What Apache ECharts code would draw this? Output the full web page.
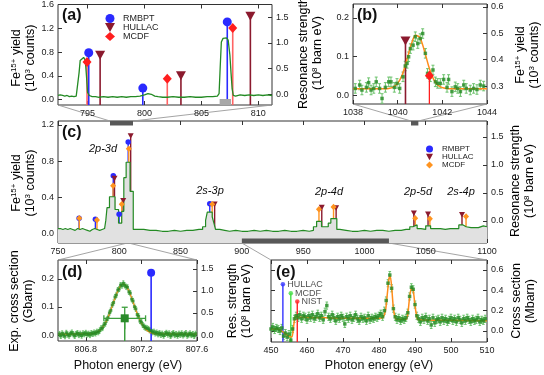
<!DOCTYPE html>
<html><head><meta charset="utf-8">
<script src="https://cdn.jsdelivr.net/npm/echarts@6/dist/echarts.min.js"></script>
<style>html,body{margin:0;padding:0;background:#fff}#c{width:544px;height:375px}</style>
</head><body><div id="c"></div>
<script>
// ================= DATA =================
// axis ranges (eV / units)
const aXRange = [792.4, 811.2];
const bXRange = [1038, 1044];
const cXRange = [750, 1100];
const dXRange = [806.6, 807.6];
const eXRange = [450, 510];
const eXRange2 = [900, 1020]; // second-order region marked in (c)

// tick labels
const aXTicks = [795, 800, 805, 810];
const aYLTicks = [0, 0.4, 0.8, 1.2, 1.6];
const aYRTicks = [0, 0.5, 1.0, 1.5];
const bXTicks = [1038, 1040, 1042, 1044];
const bYLTicks = [0, 0.1, 0.2];
const bYRTicks = [0.3, 0.4, 0.5, 0.6];
const cXTicks = [750, 800, 850, 900, 950, 1000, 1050, 1100];
const cYLTicks = [0, 0.4, 0.8, 1.2];
const cYRTicks = [0, 0.5, 1.0, 1.5];
const dXTicks = [806.8, 807.2, 807.6];
const dYLTicks = [0, 0.1, 0.2];
const dYRTicks = [0, 0.5, 1.0, 1.5];
const eXTicks = [450, 460, 470, 480, 490, 500, 510];
const eYTicks = [0, 0.2, 0.4, 0.6];

// (a) Fe15+ yield, fine scan
const aYield = [[792.4,0.07],[792.6,0.08],[792.8,0.07],[793.0,0.06],[793.2,0.07],[793.4,0.05],[793.6,0.06],[793.8,0.05],[794.0,0.06],[794.15,0.09],[794.25,0.45],[794.35,0.66],[794.5,0.69],[794.65,0.71],[794.8,0.66],[794.9,0.40],[795.0,0.12],[795.15,0.07],[795.4,0.05],[795.7,0.05],[796.0,0.04],[796.4,0.05],[796.8,0.04],[797.2,0.05],[797.6,0.04],[798.0,0.05],[798.4,0.04],[798.8,0.05],[799.2,0.05],[799.6,0.06],[800.0,0.08],[800.3,0.10],[800.6,0.09],[800.9,0.06],[801.2,0.05],[801.6,0.04],[802.0,0.04],[802.5,0.05],[803.0,0.04],[803.5,0.04],[804.0,0.05],[804.5,0.04],[805.0,0.04],[805.5,0.05],[806.0,0.05],[806.4,0.06],[806.55,0.10],[806.65,0.55],[806.75,0.97],[806.9,1.03],[807.05,1.05],[807.2,1.04],[807.35,1.00],[807.5,0.75],[807.6,0.45],[807.7,0.18],[807.8,0.07],[808.0,0.06],[808.4,0.08],[808.8,0.07],[809.2,0.08],[809.6,0.07],[810.0,0.08],[810.4,0.07],[810.8,0.08],[811.2,0.07]];

// theory resonance strengths (10^8 barn eV)
const thRMBPT = [[767.2,0.05],[780.5,0.03],[795.1,0.81],[799.85,0.12],[807.27,1.41],[873.8,0.31]];
const thHULLAC = [[796.1,0.76],[803.2,0.36],[809.3,1.52],[877.8,0.30],[965.2,0.24],[976.9,0.23],[1040.35,0.14],[1051.9,0.12],[1079.6,0.11]];
const thMCDF = [[767.4,0.05],[781.8,0.02],[794.95,0.63],[802.0,0.30],[807.75,1.29],[875.8,0.30],[962.9,0.21],[974.8,0.25],[1041.42,0.05],[1053.4,0.04],[1082.9,0.08]];

// (b) 2p-5d resonance
const bData = [[1038.10,0.291],[1038.30,0.304],[1038.40,0.285],[1038.60,0.295],[1038.70,0.313],[1038.81,0.285],[1038.93,0.291],[1039.04,0.316],[1039.19,0.291],[1039.30,0.253],[1039.45,0.295],[1039.60,0.316],[1039.70,0.316],[1039.85,0.295],[1039.97,0.310],[1040.09,0.291],[1040.24,0.335],[1040.34,0.376],[1040.42,0.386],[1040.49,0.411],[1040.57,0.442],[1040.69,0.455],[1040.79,0.487],[1040.90,0.461],[1041.01,0.480],[1041.12,0.499],[1041.24,0.424],[1041.34,0.348],[1041.46,0.335],[1041.58,0.361],[1041.69,0.316],[1041.79,0.310],[1041.91,0.310],[1042.06,0.325],[1042.21,0.295],[1042.28,0.325],[1042.43,0.279],[1042.58,0.297],[1042.69,0.291],[1042.81,0.279],[1042.96,0.304],[1043.07,0.291],[1043.25,0.285],[1043.40,0.291],[1043.55,0.287],[1043.70,0.304],[1043.85,0.300]];
const bErr = 0.018;
const bFit = [[1038,0.29],[1039.4,0.29],[1039.6,0.291],[1039.8,0.296],[1040.0,0.310],[1040.2,0.342],[1040.4,0.396],[1040.6,0.456],[1040.8,0.493],[1041.0,0.483],[1041.2,0.433],[1041.4,0.372],[1041.6,0.327],[1041.8,0.303],[1042.0,0.294],[1042.2,0.291],[1042.4,0.29],[1044,0.29]];

// (c) overview scan (bin start, yield)
const cYield = [[750,0.06],[752,0.05],[754,0.06],[756,0.05],[758,0.06],[760,0.05],[762,0.04],[764,0.06],[766,0.05],[768,0.06],[770,0.05],[772,0.04],[774,0.03],[776,0.05],[778,0.06],[780,0.05],[782,0.04],[784,0.05],[786,0.06],[788,0.08],[789,0.15],[790,0.29],[792,0.41],[796.5,0.27],[799.4,0.12],[802,0.25],[803.7,0.62],[805.6,0.79],[808.8,0.47],[811.4,0.05],[815,0.05],[820,0.04],[825,0.04],[830,0.03],[835,0.03],[840,0.04],[845,0.03],[850,0.04],[855,0.04],[860,0.05],[865,0.05],[868,0.08],[870.4,0.15],[871.8,0.24],[875.8,0.19],[877.2,0.12],[878.5,0.05],[882,0.04],[886,0.03],[890,0.04],[895,0.03],[900,0.03],[905,0.04],[910,0.03],[915,0.04],[920,0.03],[925,0.03],[930,0.04],[935,0.03],[940,0.03],[945,0.04],[950,0.03],[955,0.04],[958.4,0.08],[961,0.14],[965,0.08],[970.5,0.12],[972.6,0.17],[977.5,0.05],[980,0.04],[985,0.03],[990,0.03],[995,0.04],[1000,0.03],[1005,0.04],[1010,0.04],[1015,0.03],[1020,0.04],[1025,0.04],[1030,0.05],[1034,0.05],[1037,0.08],[1039.5,0.10],[1043,0.06],[1046,0.05],[1050,0.09],[1054,0.06],[1058,0.06],[1062,0.05],[1066,0.06],[1070,0.06],[1074,0.06],[1077,0.10],[1080.5,0.08],[1083,0.07],[1087,0.07],[1090,0.07],[1093,0.09],[1097,0.08],[1100,0.08]];

// (d) high resolution scan (Gbarn)
const dData = [[806.61,0.004],[806.62,-0.003],[806.63,0.006],[806.64,0.001],[806.65,-0.004],[806.66,0.008],[806.67,0.002],[806.68,-0.002],[806.69,0.005],[806.70,0.009],[806.71,0.003],[806.72,-0.003],[806.73,0.004],[806.74,0.007],[806.75,0.000],[806.76,0.005],[806.77,-0.002],[806.78,0.006],[806.79,0.003],[806.80,0.008],[806.81,0.002],[806.82,0.005],[806.83,0.000],[806.84,0.007],[806.85,0.004],[806.86,0.009],[806.87,0.006],[806.88,0.012],[806.89,0.010],[806.90,0.016],[806.91,0.024],[806.92,0.025],[806.93,0.036],[806.94,0.041],[806.95,0.054],[806.96,0.062],[806.97,0.079],[806.98,0.088],[806.99,0.107],[807.00,0.116],[807.01,0.135],[807.02,0.143],[807.03,0.160],[807.04,0.164],[807.05,0.178],[807.06,0.176],[807.07,0.184],[807.08,0.177],[807.09,0.172],[807.10,0.170],[807.11,0.154],[807.12,0.149],[807.13,0.128],[807.14,0.121],[807.15,0.101],[807.16,0.093],[807.17,0.073],[807.18,0.067],[807.19,0.050],[807.20,0.046],[807.21,0.036],[807.22,0.030],[807.23,0.026],[807.24,0.024],[807.25,0.022],[807.26,0.017],[807.27,0.015],[807.28,0.010],[807.29,0.012],[807.30,0.006],[807.31,0.009],[807.32,0.003],[807.33,0.007],[807.34,0.001],[807.35,0.005],[807.36,-0.002],[807.37,0.004],[807.38,0.008],[807.39,0.002],[807.40,0.006],[807.41,-0.003],[807.42,0.003],[807.43,0.007],[807.44,0.000],[807.45,0.004],[807.46,-0.002],[807.47,0.005],[807.48,0.001],[807.49,0.006],[807.50,-0.001],[807.51,0.003],[807.52,0.007],[807.53,-0.002],[807.54,0.002],[807.55,0.006],[807.56,0.000],[807.57,0.004],[807.58,-0.003],[807.59,0.005]];
const dErr = 0.009;
const dFit = [[806.6,0.003],[806.85,0.005],[806.87,0.008],[806.89,0.013],[806.91,0.021],[806.93,0.034],[806.95,0.052],[806.97,0.076],[806.99,0.104],[807.01,0.132],[807.03,0.157],[807.05,0.175],[807.07,0.181],[807.09,0.175],[807.11,0.157],[807.13,0.132],[807.15,0.104],[807.17,0.076],[807.19,0.052],[807.21,0.034],[807.23,0.021],[807.25,0.013],[807.27,0.008],[807.29,0.005],[807.6,0.003]];
const dExp = [[807.08, 0.38]];      // experimental strength (10^8 barn eV)
const dExpErrY = 0.25;
const dExpErrX = 0.15;

// (e) photoionization cross section (Mbarn)
const eData = [[450.0,0.02],[450.5,0.04],[451.0,0.01],[451.5,0.03],[452.0,0.02],[452.5,0.00],[453.0,0.03],[453.5,-0.05],[454.0,-0.02],[454.5,-0.06],[455.0,-0.03],[455.5,-0.09],[456.0,0.02],[456.5,0.12],[457.0,0.15],[457.5,0.13],[458.0,0.16],[458.5,0.12],[459.0,0.15],[459.5,0.14],[460.0,0.11],[460.5,0.15],[461.0,0.13],[461.5,0.16],[462.0,0.12],[462.5,0.14],[463.0,0.17],[463.5,0.13],[464.0,0.15],[464.5,0.11],[465.0,0.19],[465.5,0.25],[466.0,0.14],[466.5,0.12],[467.0,0.16],[467.5,0.13],[468.0,0.10],[468.5,0.14],[469.0,0.12],[469.5,0.15],[470.0,0.13],[470.5,0.07],[471.0,0.14],[471.5,0.12],[472.0,0.15],[472.5,0.11],[473.0,0.13],[473.5,0.16],[474.0,0.12],[474.5,0.10],[475.0,0.14],[475.5,0.12],[476.0,0.13],[476.5,0.10],[477.0,0.15],[477.5,0.11],[478.0,0.13],[478.5,0.12],[479.0,0.14],[479.5,0.13],[480.0,0.15],[480.5,0.17],[481.0,0.14],[481.5,0.20],[482.0,0.30],[482.5,0.47],[483.0,0.55],[483.5,0.42],[484.0,0.22],[484.5,0.14],[485.0,0.11],[485.5,0.13],[486.0,0.10],[486.5,0.12],[487.0,0.11],[487.5,0.13],[488.0,0.18],[488.5,0.34],[489.0,0.43],[489.5,0.41],[490.0,0.26],[490.5,0.15],[491.0,0.12],[491.5,0.09],[492.0,0.13],[492.5,0.11],[493.0,0.14],[493.5,0.10],[494.0,0.12],[494.5,0.06],[495.0,0.13],[495.5,0.08],[496.0,0.11],[496.5,0.12],[497.0,0.09],[497.5,0.13],[498.0,0.10],[498.5,0.12],[499.0,0.09],[499.5,0.11],[500.0,0.13],[500.5,0.10],[501.0,0.12],[501.5,0.09],[502.0,0.13],[502.5,0.11],[503.0,0.08],[503.5,0.12],[504.0,0.10],[504.5,0.13],[505.0,0.11],[505.5,0.09],[506.0,0.12],[506.5,0.10],[507.0,0.11],[507.5,0.13],[508.0,0.09],[508.5,0.11],[509.0,0.10],[509.5,0.12]];
const eErr = 0.035;
const eFit = [[450,0.02],[452,0.02],[453,0.0],[454,-0.03],[455,-0.05],[455.8,-0.06],[456.3,0.05],[456.8,0.14],[458,0.135],[465,0.13],[475,0.125],[480,0.125],[481,0.13],[481.8,0.2],[482.3,0.36],[482.8,0.52],[483.1,0.54],[483.5,0.44],[484,0.22],[484.5,0.13],[485,0.115],[487.5,0.115],[488,0.17],[488.5,0.33],[489,0.42],[489.5,0.40],[490,0.25],[490.5,0.14],[491,0.11],[500,0.105],[510,0.10]];
const eHULLAC = [[453.3,0.46]];
const eMCDF = [[455.5,0.37]];
const eNIST = [[457.3,0.29]];

// ================= STYLE =================
const FF = '"Liberation Sans", Arial, Helvetica, sans-serif';
const GREEN = '#238a23', ERRG = '#6cc26c', ORANGE = '#ff8c1a';
const BLUE = '#2a2aff', DRED = '#8b1a2e', RED = '#ff1e1e', PINK = '#ff6464', MCDFO = '#ff9420';
const TRI = 'path://M0,0L10,0L5,9Z';

const inRange = (arr, r) => arr.filter(p => p[0] >= r[0] && p[0] <= r[1]);

function vAxis(grid, r, pos, ticks, dec, label) {
  return {
    type: 'value', gridIndex: grid, min: r[0], max: r[1], position: pos,
    axisLine: {show: false, onZero: false}, splitLine: {show: false},
    axisTick: {show: true, inside: true, length: 4, customValues: ticks, lineStyle: {color: '#333', width: 1}},
    axisLabel: {show: !!label, customValues: ticks, formatter: v => Number(v).toFixed(dec),
      fontSize: 9, fontFamily: FF, color: '#222', margin: 4}
  };
}
function stemItem(color, w) {
  return (params, api) => {
    const p = api.coord([api.value(0), api.value(1)]);
    const cs = params.coordSys;
    return {type: 'line', shape: {x1: p[0], y1: cs.y + cs.height, x2: p[0], y2: p[1]},
      style: {stroke: color, lineWidth: w}};
  };
}
function errItem(color, cap) {
  return (params, api) => {
    const x = api.value(0), y = api.value(1), e = api.value(2);
    const hi = api.coord([x, y + e]), lo = api.coord([x, y - e]);
    const st = {stroke: color, lineWidth: 1};
    return {type: 'group', children: [
      {type: 'line', shape: {x1: hi[0], y1: hi[1], x2: lo[0], y2: lo[1]}, style: st},
      {type: 'line', shape: {x1: hi[0] - cap, y1: hi[1], x2: hi[0] + cap, y2: hi[1]}, style: st},
      {type: 'line', shape: {x1: lo[0] - cap, y1: lo[1], x2: lo[0] + cap, y2: lo[1]}, style: st}
    ]};
  };
}
function bandItem(color, h) {
  return (params, api) => {
    const cs = params.coordSys;
    const p0 = api.coord([api.value(0), 0]), p1 = api.coord([api.value(1), 0]);
    const y = api.value(2) ? cs.y : cs.y + cs.height - h;
    return {type: 'rect', shape: {x: p0[0], y: y, width: p1[0] - p0[0], height: h}, style: {fill: color}};
  };
}
function stems(xi, yi, data, color, w) {
  return {type: 'custom', coordinateSystem: 'cartesian2d', xAxisIndex: xi, yAxisIndex: yi,
    data: data, renderItem: stemItem(color, w), silent: true, clip: true};
}
function marks(name, xi, yi, data, color, symbol, size) {
  return {type: 'scatter', name: name, xAxisIndex: xi, yAxisIndex: yi, data: data,
    symbol: symbol, symbolSize: size, itemStyle: {color: color, opacity: 1}, silent: true, z: 4};
}
function errs(xi, yi, data, err, color, cap) {
  return {type: 'custom', coordinateSystem: 'cartesian2d', xAxisIndex: xi, yAxisIndex: yi,
    data: data.map(p => [p[0], p[1], err]), renderItem: errItem(color, cap), silent: true, clip: true};
}
function pts(xi, yi, data, size) {
  return {type: 'scatter', xAxisIndex: xi, yAxisIndex: yi, data: data, symbol: 'rect',
    symbolSize: size, itemStyle: {color: GREEN}, silent: true, z: 3};
}
function band(xi, yi, data, color, h) {
  return {type: 'custom', coordinateSystem: 'cartesian2d', xAxisIndex: xi, yAxisIndex: yi,
    data: data, renderItem: bandItem(color, h), silent: true, z: 5};
}

const grids = [
  {left: 58, top: 4, width: 214, height: 101},
  {left: 353, top: 4, width: 134, height: 100},
  {left: 58, top: 121, width: 429, height: 122},
  {left: 58, top: 260, width: 139, height: 81},
  {left: 271, top: 260, width: 216, height: 82}
].map(g => Object.assign(g, {show: true, borderColor: '#333', borderWidth: 1, backgroundColor: 'rgba(0,0,0,0)'}));

const aYL = [-0.09, 1.6], aYR = [-0.21, 1.75];
const bYL = [-0.023, 0.236], bYR = [0.232, 0.611];
const cYL = [-0.099, 1.244], cYR = [-0.393, 1.786];
const dYL = [-0.021, 0.267], dYR = [-0.134, 1.70];
const eY = [-0.108, 0.698];

const xAxes = [
  vAxis(0, aXRange, 'bottom', aXTicks, 0, true), vAxis(0, aXRange, 'top', aXTicks, 0, false),
  vAxis(1, bXRange, 'bottom', bXTicks, 0, true), vAxis(1, bXRange, 'top', bXTicks, 0, false),
  vAxis(2, cXRange, 'bottom', cXTicks, 0, true), vAxis(2, cXRange, 'top', cXTicks, 0, false),
  vAxis(3, dXRange, 'bottom', dXTicks, 1, true), vAxis(3, dXRange, 'top', dXTicks, 1, false),
  vAxis(4, eXRange, 'bottom', eXTicks, 0, true), vAxis(4, eXRange, 'top', eXTicks, 0, false)
];
const yAxes = [
  vAxis(0, aYL, 'left', aYLTicks, 1, true), vAxis(0, aYR, 'right', aYRTicks, 1, true),
  vAxis(1, bYL, 'left', bYLTicks, 1, true), vAxis(1, bYR, 'right', bYRTicks, 1, true),
  vAxis(2, cYL, 'left', cYLTicks, 1, true), vAxis(2, cYR, 'right', cYRTicks, 1, true),
  vAxis(3, dYL, 'left', dYLTicks, 1, true), vAxis(3, dYR, 'right', dYRTicks, 1, true),
  vAxis(4, eY, 'left', eYTicks, 1, false), vAxis(4, eY, 'right', eYTicks, 1, true)
];

const aR = inRange(thRMBPT, aXRange), aH = inRange(thHULLAC, aXRange), aM = inRange(thMCDF, aXRange);
const bH = inRange(thHULLAC, bXRange), bM = inRange(thMCDF, bXRange);
const dR = inRange(thRMBPT, dXRange);

const series = [
  // ---- (a)
  {type: 'line', xAxisIndex: 0, yAxisIndex: 0, data: aYield, showSymbol: false, symbol: 'none',
    lineStyle: {color: GREEN, width: 1.3}, silent: true},
  band(0, 0, [[dXRange[0], dXRange[1], 0]], '#a8a8a8', 6),
  stems(0, 1, aM, PINK, 1.6), stems(0, 1, aR, BLUE, 1.6), stems(0, 1, aH, DRED, 1.6),
  marks('RMBPT', 0, 1, aR, BLUE, 'circle', 9),
  marks('HULLAC', 0, 1, aH, DRED, TRI, [10, 9]),
  marks('MCDF', 0, 1, aM, RED, 'diamond', [9, 10]),
  // ---- (b)
  errs(2, 3, bData, bErr, ERRG, 1.5),
  pts(2, 3, bData, 3.5),
  {type: 'line', xAxisIndex: 2, yAxisIndex: 3, data: bFit, smooth: 0.3, showSymbol: false, symbol: 'none',
    lineStyle: {color: ORANGE, width: 1.5}, silent: true, z: 2},
  stems(2, 2, bH, DRED, 1.6), stems(2, 2, bM, RED, 1.3),
  marks('bH', 2, 2, bH, DRED, TRI, [10, 9]),
  marks('bM', 2, 2, bM, RED, 'diamond', [9, 10]),
  // ---- (c)
  {type: 'line', xAxisIndex: 4, yAxisIndex: 4, data: cYield, step: 'end', showSymbol: false, symbol: 'none',
    lineStyle: {color: GREEN, width: 1.2}, areaStyle: {color: '#e1e1e1', opacity: 1, origin: 'start'}, silent: true},
  stems(4, 5, thRMBPT, BLUE, 1.4), stems(4, 5, thMCDF, MCDFO, 1.4), stems(4, 5, thHULLAC, DRED, 1.4),
  marks('RMBPT ', 4, 5, thRMBPT, BLUE, 'circle', 5.5),
  marks('HULLAC ', 4, 5, thHULLAC, DRED, TRI, [6, 5.5]),
  marks('MCDF ', 4, 5, thMCDF, MCDFO, 'diamond', [6, 6.5]),
  band(4, 4, [[aXRange[0], aXRange[1], 1], [bXRange[0], bXRange[1], 1], [eXRange2[0], eXRange2[1], 0]], '#585858', 4.5),
  // ---- (d)
  errs(6, 6, dData, dErr, ERRG, 1),
  pts(6, 6, dData, 3),
  {type: 'line', xAxisIndex: 6, yAxisIndex: 6, data: dFit, smooth: 0.3, showSymbol: false, symbol: 'none',
    lineStyle: {color: ORANGE, width: 1.2}, silent: true, z: 2},
  stems(6, 7, dExp, '#3c9e3c', 1.5),
  {type: 'custom', coordinateSystem: 'cartesian2d', xAxisIndex: 6, yAxisIndex: 7, silent: true, z: 4,
    data: dExp.map(p => [p[0], p[1], dExpErrY, dExpErrX]),
    renderItem: (params, api) => {
      const x = api.value(0), y = api.value(1), ey = api.value(2), ex = api.value(3);
      const t = api.coord([x, y + ey]), b = api.coord([x, y - ey]);
      const l = api.coord([x - ex, y]), r = api.coord([x + ex, y]);
      const st = {stroke: '#3c9e3c', lineWidth: 1.3};
      return {type: 'group', children: [
        {type: 'line', shape: {x1: t[0], y1: t[1], x2: b[0], y2: b[1]}, style: st},
        {type: 'line', shape: {x1: t[0] - 3, y1: t[1], x2: t[0] + 3, y2: t[1]}, style: st},
        {type: 'line', shape: {x1: l[0], y1: l[1], x2: r[0], y2: r[1]}, style: st},
        {type: 'line', shape: {x1: l[0], y1: l[1] - 3, x2: l[0], y2: l[1] + 3}, style: st},
        {type: 'line', shape: {x1: r[0], y1: r[1] - 3, x2: r[0], y2: r[1] + 3}, style: st}
      ]};
    }},
  marks('dExp', 6, 7, dExp, '#2a8a2a', 'rect', 8),
  stems(6, 7, dR, BLUE, 1.6),
  marks('dR', 6, 7, dR, BLUE, 'circle', 8),
  // ---- (e)
  errs(8, 9, eData, eErr, ERRG, 1.3),
  pts(8, 9, eData, 3.5),
  {type: 'line', xAxisIndex: 8, yAxisIndex: 9, data: eFit, smooth: 0.25, showSymbol: false, symbol: 'none',
    lineStyle: {color: ORANGE, width: 1.5}, silent: true, z: 2},
  stems(8, 9, eHULLAC, '#3434ff', 1.4), stems(8, 9, eMCDF, '#44dd44', 1.4), stems(8, 9, eNIST, '#ff2424', 1.4)
];
[['HULLAC', eHULLAC, '#3434ff'], ['MCDF', eMCDF, '#44dd44'], ['NIST', eNIST, '#ff2424']].forEach(([n, d, c]) => {
  series.push({type: 'scatter', xAxisIndex: 8, yAxisIndex: 9, symbol: 'circle', symbolSize: 4.5,
    itemStyle: {color: c}, silent: true, z: 4,
    data: d.map(p => ({value: p, name: n})),
    label: {show: true, position: 'right', distance: 2, formatter: '{b}', fontSize: 9, fontFamily: FF, color: '#222'}});
});

const legends = [
  {left: 100, top: 9, orient: 'vertical', itemGap: 0, itemWidth: 10, itemHeight: 9, selectedMode: false,
    textStyle: {fontSize: 9, fontFamily: FF, color: '#222', padding: [0, 0, 0, 3]},
    data: [{name: 'RMBPT', icon: 'circle'}, {name: 'HULLAC', icon: TRI}, {name: 'MCDF', icon: 'diamond'}]},
  {left: 421, top: 140, orient: 'vertical', itemGap: 0, itemWidth: 7, itemHeight: 7, selectedMode: false,
    textStyle: {fontSize: 8, fontFamily: FF, color: '#222', padding: [0, 0, 0, 4]},
    data: [{name: 'RMBPT ', icon: 'circle'}, {name: 'HULLAC ', icon: TRI}, {name: 'MCDF ', icon: 'diamond'}]}
];

const chart = echarts.init(document.getElementById('c'), null, {renderer: 'canvas', width: 544, height: 375});
chart.setOption({animation: false, backgroundColor: '#fff', grid: grids, xAxis: xAxes, yAxis: yAxes,
  legend: legends, series: series});

// ---- decorations: titles, panel labels, connectors
const rich = {
  n: {fontSize: 12.5, fontFamily: FF, color: '#111', lineHeight: 14},
  s: {fontSize: 8, fontFamily: FF, color: '#111', verticalAlign: 'top', lineHeight: 9}
};
function vtitle(x, y, txt) {
  return {type: 'text', x: x, y: y, rotation: Math.PI / 2, silent: true,
    style: {text: txt, rich: rich, align: 'center', verticalAlign: 'middle'}};
}
function htext(x, y, txt, font, align) {
  return {type: 'text', x: x, y: y, silent: true,
    style: {text: txt, font: font, fill: '#111', align: align || 'center', verticalAlign: 'middle'}};
}
const yieldT = '{n|Fe}{s|15+}{n| yield}\n{n|(10}{s|3}{n| counts)}';
const resT = '{n|Resonance strength}\n{n|(10}{s|8}{n| barn eV)}';
const P = (xi, yi, v) => chart.convertToPixel({xAxisIndex: xi, yAxisIndex: yi}, v);
function seg(p, q) {
  return {type: 'line', silent: true, z: 0, shape: {x1: p[0], y1: p[1], x2: q[0], y2: q[1]},
    style: {stroke: '#9a9a9a', lineWidth: 0.9}};
}
const g = [];
// connectors (a)->(c), (b)->(c), (c)->(d), (c)->(e)
g.push(seg(P(0, 0, [aXRange[0], aYL[0]]), P(4, 4, [aXRange[0], cYL[1]])));
g.push(seg(P(0, 0, [aXRange[1], aYL[0]]), P(4, 4, [aXRange[1], cYL[1]])));
g.push(seg(P(2, 2, [bXRange[0], bYL[0]]), P(4, 4, [bXRange[0], cYL[1]])));
g.push(seg(P(2, 2, [bXRange[1], bYL[0]]), P(4, 4, [bXRange[1], cYL[1]])));
g.push(seg(P(4, 4, [dXRange[0], cYL[0]]), P(6, 6, [dXRange[0], dYL[1]])));
g.push(seg(P(4, 4, [dXRange[1], cYL[0]]), P(6, 6, [dXRange[1], dYL[1]])));
g.push(seg(P(4, 4, [eXRange2[0], cYL[0]]), P(8, 9, [eXRange[0], eY[1]])));
g.push(seg(P(4, 4, [eXRange2[1], cYL[0]]), P(8, 9, [eXRange[1], eY[1]])));
// axis titles
g.push(vtitle(24, 58, yieldT));
g.push(vtitle(311, 53, resT));
g.push(vtitle(528, 55, yieldT));
g.push(vtitle(24, 183, yieldT));
g.push(vtitle(523, 181, resT));
g.push(vtitle(22, 301, '{n|Exp. cross section}\n{n|(Gbarn)}'));
g.push(vtitle(240, 301, '{n|Res. strength}\n{n|(10}{s|8}{n| barn eV)}'));
g.push(vtitle(524, 301, '{n|Cross section}\n{n|(Mbarn)}'));
g.push(htext(128, 366, 'Photon energy (eV)', '12.5px ' + FF));
g.push(htext(379, 366, 'Photon energy (eV)', '12.5px ' + FF));
// panel labels
const PL = 'bold 16px ' + FF;
g.push(htext(62, 16, '(a)', PL, 'left'));
g.push(htext(357, 16, '(b)', PL, 'left'));
g.push(htext(62, 133, '(c)', PL, 'left'));
g.push(htext(62, 273, '(d)', PL, 'left'));
g.push(htext(276, 273, '(e)', PL, 'left'));
// transition labels in (c)
const IT = 'italic 11px ' + FF;
g.push(htext(103, 149, '2p-3d', IT));
g.push(htext(210, 191, '2s-3p', IT));
g.push(htext(329, 192, '2p-4d', IT));
g.push(htext(418, 192, '2p-5d', IT));
g.push(htext(461, 192, '2s-4p', IT));
chart.setOption({graphic: g});
</script></body></html>
